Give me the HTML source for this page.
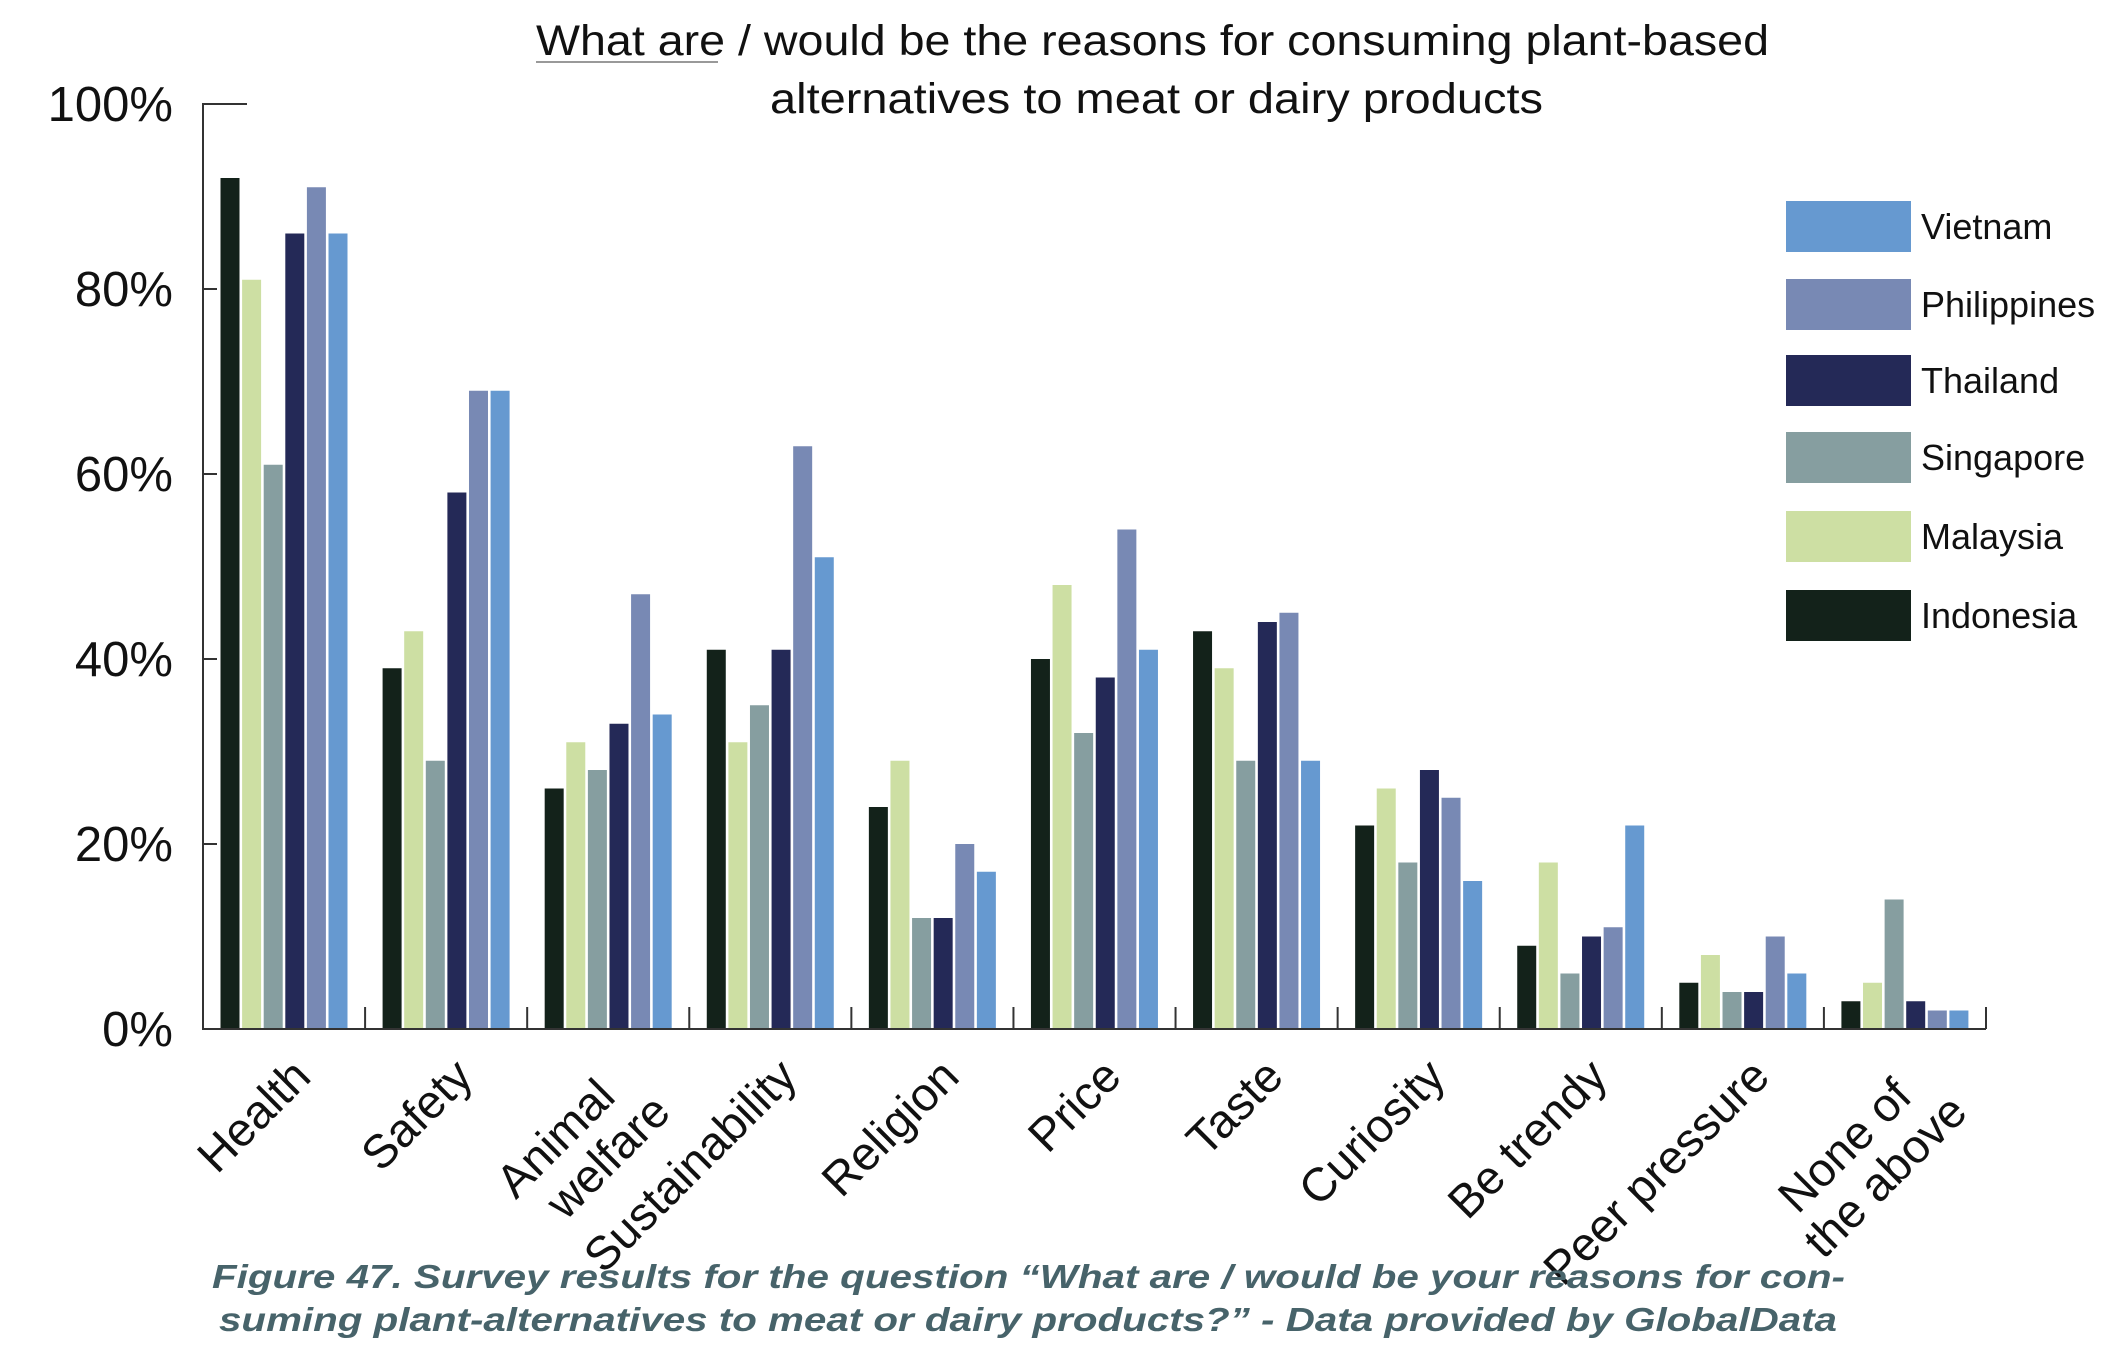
<!DOCTYPE html>
<html><head><meta charset="utf-8"><style>
html,body{margin:0;padding:0;background:#fff}
svg{display:block;font-family:"Liberation Sans",sans-serif}
</style></head><body>
<svg id="chart" width="2118" height="1362" viewBox="0 0 2118 1362" xmlns="http://www.w3.org/2000/svg">
<g id="title" font-size="43" fill="#111">
<text x="536" y="55" textLength="1233" lengthAdjust="spacingAndGlyphs">What are / would be the reasons for consuming plant-based</text>
<text x="770" y="113" textLength="773" lengthAdjust="spacingAndGlyphs">alternatives to meat or dairy products</text>
<line x1="536" y1="62" x2="718" y2="62" stroke="#999" stroke-width="2"/>
</g>
<g id="plot"></g>
<g id="legend"></g>
<g id="caption" font-size="33" font-weight="bold" font-style="italic" fill="#47636a">
<text x="212" y="1288" textLength="1633" lengthAdjust="spacingAndGlyphs">Figure 47. Survey results for the question “What are / would be your reasons for con-</text>
<text x="219" y="1331" textLength="1618" lengthAdjust="spacingAndGlyphs">suming plant-alternatives to meat or dairy products?” - Data provided by GlobalData</text>
</g>
</svg>
<script>
const categories = [["Health"],["Safety"],["Animal","welfare"],["Sustainability"],["Religion"],["Price"],["Taste"],["Curiosity"],["Be trendy"],["Peer pressure"],["None of","the above"]];
const seriesNames = ["Indonesia","Malaysia","Singapore","Thailand","Philippines","Vietnam"];
const indonesia = [92,39,26,41,24,40,43,22,9,5,3];
const malaysia = [81,43,31,31,29,48,39,26,18,8,5];
const singapore = [61,29,28,35,12,32,29,18,6,4,14];
const thailand = [86,58,33,41,12,38,44,28,10,4,3];
const philippines = [91,69,47,63,20,54,45,25,11,10,2];
const vietnam = [86,69,34,51,17,41,29,16,22,6,2];
const yTicks = [0,20,40,60,80,100];

const series = [indonesia,malaysia,singapore,thailand,philippines,vietnam];
const colors = ["#13221a","#cddfa3","#869ea0","#242957","#7889b4","#6699d0"];
const NS="http://www.w3.org/2000/svg";
const x0=203, x1=1986, y0=1029, yTop=104;
const gw=(x1-x0)/categories.length;
const y=v=>y0-(y0-yTop)*v/100;
const plot=document.getElementById('plot');
function mk(tag,attrs,parent){const e=document.createElementNS(NS,tag);for(const k in attrs)e.setAttribute(k,attrs[k]);parent.appendChild(e);return e;}

series.forEach((vals,si)=>{
  vals.forEach((v,ci)=>{
    const r=mk('rect',{x:x0+ci*gw+17.5+si*21.6,y:y(v),width:19,height:y0-y(v),fill:colors[si]},plot);
    
    
  });
});
const ax=mk('path',{d:`M${x0+44},${yTop} H${x0} V${y0} H${x1}`,fill:'none',stroke:'#333','stroke-width':2},plot);


yTicks.forEach(t=>{
  if(t>0&&t<100){const l=mk('line',{x1:x0,x2:x0+14,y1:y(t),y2:y(t),stroke:'#333','stroke-width':2},plot);
  
  }
  const tx=mk('text',{x:173,y:y(t)+17,'font-size':49,'text-anchor':'end',fill:'#111'},plot);
  tx.textContent=t+'%';
  
  
});
categories.forEach((c,ci)=>{
  const sx=x0+(ci+1)*gw;
  const l=mk('line',{x1:sx,x2:sx,y1:y0,y2:y0-22,stroke:'#333','stroke-width':2},plot);
  
  
  const cx=x0+ci*gw+gw/2+29, cy=1079;
  const t=mk('text',{transform:`translate(${cx},${cy}) rotate(-45)`,'font-size':47,'text-anchor':'end',fill:'#111'},plot);
  
  
  c.forEach((line,li)=>{const ts=mk('tspan',{x:li*28+(c.length>1?-28:0),y:li*50},t);ts.textContent=line;});
});
const lg=document.getElementById('legend');
const legY=[201,279,355,432,511,590];
[5,4,3,2,1,0].forEach((si,i)=>{
  const r=mk('rect',{x:1786,y:legY[i],width:125,height:51,fill:colors[si]},lg);
  
  
  const t=mk('text',{x:1921,y:legY[i]+38,'font-size':36,fill:'#111'},lg);
  t.textContent=seriesNames[si];
  
  
});
</script>
</body></html>
